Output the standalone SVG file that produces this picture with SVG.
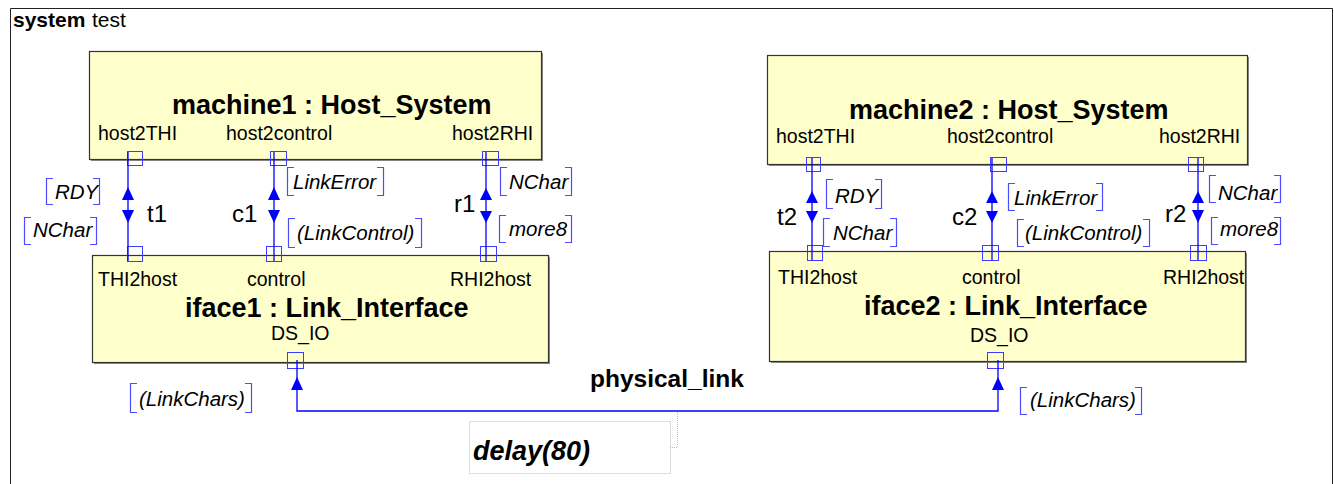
<svg xmlns="http://www.w3.org/2000/svg" width="1334" height="484" viewBox="0 0 1334 484">
<style>
text{font-family:"Liberation Sans",Arial,sans-serif;fill:#000}
.ttl{font-size:27px;font-weight:bold}
.lbl{font-size:19.5px}
.it{font-size:20.5px;font-style:italic}
.cn{font-size:24px}
.box{fill:#ffffcc;stroke:#333;stroke-width:1.2}
.shd{fill:#8a8a8a}
.port{fill:none;stroke:#3c3cff;stroke-width:1}
.wire{fill:none;stroke:#0000ff;stroke-width:1.3}
.ah{fill:#0000ff}
.br{fill:none;stroke:#4d4dff;stroke-width:1.2}
.dot{fill:none;stroke:#bbb;stroke-width:1;stroke-dasharray:1,1}
</style>
<rect width="1334" height="484" fill="#fff"/>
<path d="M10.5,484 V8.5 H1332.5 V484" fill="none" stroke="#222" stroke-width="1"/>
<text x="13" y="27" style="font-size:21px;font-weight:bold">system</text>
<text x="92" y="27" style="font-size:21px">test</text>

<g id="machine1">
<rect class="shd" x="91" y="53" width="452" height="108"/>
<rect class="box" x="89.5" y="51.5" width="452" height="108"/>
<text class="ttl" x="172" y="114">machine1 : Host_System</text>
<text class="lbl" x="98" y="140">host2THI</text>
<text class="lbl" x="226" y="140">host2control</text>
<text class="lbl" x="452" y="140">host2RHI</text>
<rect class="port" x="127.5" y="151.5" width="15" height="14"/>
<rect class="port" x="270.5" y="151.5" width="16" height="14"/>
<rect class="port" x="482.5" y="151.5" width="16" height="14"/>
</g>

<g id="iface1">
<rect class="shd" x="94" y="257" width="456" height="107"/>
<rect class="box" x="92.5" y="255.5" width="456" height="107"/>
<text class="lbl" x="98" y="286">THI2host</text>
<text class="lbl" x="247" y="286">control</text>
<text class="lbl" x="450" y="286">RHI2host</text>
<text class="ttl" x="185" y="317">iface1 : Link_Interface</text>
<text class="lbl" x="271" y="340">DS_IO</text>
<rect class="port" x="127.5" y="246.5" width="15" height="15"/>
<rect class="port" x="266.5" y="246.5" width="15" height="15"/>
<rect class="port" x="480.5" y="246.5" width="16" height="15"/>
<rect class="port" x="287.5" y="352.5" width="16" height="16"/>
</g>

<g id="machine2">
<rect class="shd" x="769" y="57" width="480" height="109"/>
<rect class="box" x="767.5" y="55.5" width="480" height="109"/>
<text class="ttl" x="849" y="119">machine2 : Host_System</text>
<text class="lbl" x="776" y="143">host2THI</text>
<text class="lbl" x="947" y="143">host2control</text>
<text class="lbl" x="1159" y="143">host2RHI</text>
<rect class="port" x="806.5" y="157.5" width="14" height="14"/>
<rect class="port" x="990.5" y="157.5" width="16" height="14"/>
<rect class="port" x="1188.5" y="157.5" width="15" height="14"/>
</g>

<g id="iface2">
<rect class="shd" x="771" y="253" width="476" height="110"/>
<rect class="box" x="769.5" y="251.5" width="476" height="110"/>
<text class="lbl" x="778" y="284">THI2host</text>
<text class="lbl" x="962" y="284">control</text>
<text class="lbl" x="1163" y="284">RHI2host</text>
<text class="ttl" x="864" y="315">iface2 : Link_Interface</text>
<text class="lbl" x="970" y="342">DS_IO</text>
<rect class="port" x="807.5" y="245.5" width="15" height="15"/>
<rect class="port" x="982.5" y="245.5" width="16" height="15"/>
<rect class="port" x="1190.5" y="245.5" width="16" height="15"/>
<rect class="port" x="987.5" y="352.5" width="16" height="16"/>
</g>

<g id="connectors">
<g id="t1">
<path class="wire" d="M128,152 V261"/>
<polygon class="ah" points="128,187 122,200 134,200"/>
<polygon class="ah" points="122,210 134,210 128,223"/>
<text class="cn" x="147" y="222">t1</text>
<path class="br" d="M53,178.5 H46.5 V204.5 H53 M93,178.5 H99.5 V204.5 H93"/>
<text class="it" x="55" y="199">RDY</text>
<path class="br" d="M31,217.5 H24.5 V244.5 H31 M90,217.5 H96.5 V244.5 H90"/>
<text class="it" x="33" y="237">NChar</text>
</g>
<g id="c1">
<path class="wire" d="M274,152 V261"/>
<polygon class="ah" points="274,187 268,200 280,200"/>
<polygon class="ah" points="268,210 280,210 274,223"/>
<text class="cn" x="232" y="222">c1</text>
<path class="br" d="M294,167.5 H287.5 V195.5 H294 M377,167.5 H383.5 V195.5 H377"/>
<text class="it" x="293" y="189">LinkError</text>
<path class="br" d="M295,218.5 H288.5 V247.5 H295 M415,218.5 H421.5 V247.5 H415"/>
<text class="it" x="297" y="240">(LinkControl)</text>
</g>
<g id="r1">
<path class="wire" d="M486,152 V261"/>
<polygon class="ah" points="486,188 480,200 492,200"/>
<polygon class="ah" points="480,211 492,211 486,223"/>
<text class="cn" x="454" y="212">r1</text>
<path class="br" d="M507,167.5 H500.5 V195.5 H507 M565,167.5 H571.5 V195.5 H565"/>
<text class="it" x="509" y="189">NChar</text>
<path class="br" d="M506,215.5 H499.5 V242.5 H506 M565,215.5 H571.5 V242.5 H565"/>
<text class="it" x="509" y="236">more8</text>
</g>
<g id="t2">
<path class="wire" d="M812,158 V260"/>
<polygon class="ah" points="812,191 806,203 818,203"/>
<polygon class="ah" points="806,211 818,211 812,223"/>
<text class="cn" x="777" y="225">t2</text>
<path class="br" d="M833,179.5 H826.5 V208.5 H833 M875,179.5 H881.5 V208.5 H875"/>
<text class="it" x="835" y="203">RDY</text>
<path class="br" d="M830,218.5 H823.5 V246.5 H830 M890,218.5 H896.5 V246.5 H890"/>
<text class="it" x="833" y="240">NChar</text>
</g>
<g id="c2">
<path class="wire" d="M992,158 V260"/>
<polygon class="ah" points="992,191 986,203 998,203"/>
<polygon class="ah" points="986,211 998,211 992,223"/>
<text class="cn" x="952" y="225">c2</text>
<path class="br" d="M1015,183.5 H1008.5 V210.5 H1015 M1096,183.5 H1102.5 V210.5 H1096"/>
<text class="it" x="1014" y="205">LinkError</text>
<path class="br" d="M1024,219.5 H1017.5 V246.5 H1024 M1143,219.5 H1149.5 V246.5 H1143"/>
<text class="it" x="1025" y="240">(LinkControl)</text>
</g>
<g id="r2">
<path class="wire" d="M1198,158 V260"/>
<polygon class="ah" points="1198,191 1192,203 1204,203"/>
<polygon class="ah" points="1192,210 1204,210 1198,223"/>
<text class="cn" x="1165" y="222">r2</text>
<path class="br" d="M1216,175.5 H1209.5 V202.5 H1216 M1274,175.5 H1280.5 V202.5 H1274"/>
<text class="it" x="1218" y="200">NChar</text>
<path class="br" d="M1218,217.5 H1211.5 V244.5 H1218 M1274,217.5 H1280.5 V244.5 H1274"/>
<text class="it" x="1220" y="236">more8</text>
</g>
<g id="physical_link">
<path class="wire" d="M297,360 V411 H998 V360"/>
<polygon class="ah" points="297,377 291,390 303,390"/>
<polygon class="ah" points="998,377 992,390 1004,390"/>
<text x="590" y="387" style="font-size:24.5px;font-weight:bold">physical_link</text>
<path class="br" d="M137,383.5 H130.5 V412.5 H137 M245,383.5 H251.5 V412.5 H245"/>
<text class="it" x="139" y="406">(LinkChars)</text>
<path class="br" d="M1027,387.5 H1020.5 V414.5 H1027 M1135,387.5 H1141.5 V414.5 H1135"/>
<text class="it" x="1030" y="407">(LinkChars)</text>
<rect class="dot" x="469.5" y="421.5" width="201" height="52"/>
<path class="dot" d="M670,447.5 H677.5 V412"/>
<text x="473" y="460" style="font-size:27px;font-weight:bold;font-style:italic">delay(80)</text>
</g>
</g>
</svg>
